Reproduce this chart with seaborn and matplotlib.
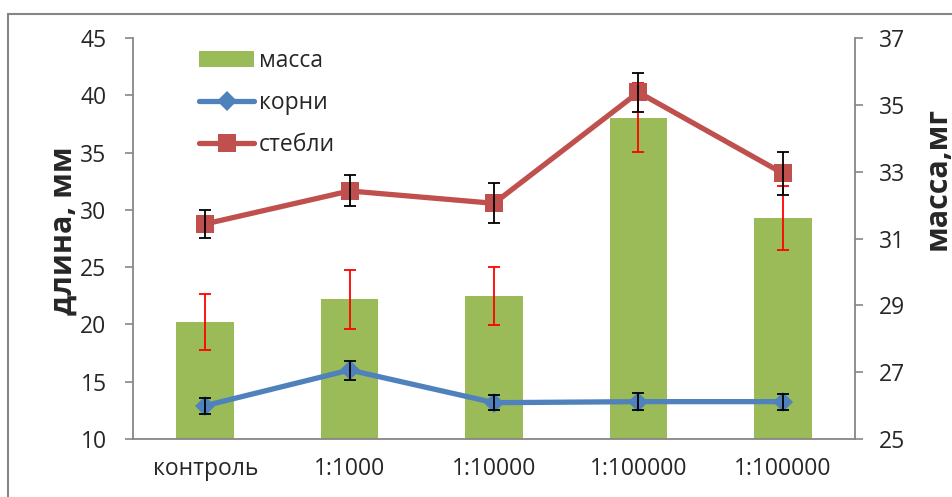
import numpy as np
import pandas as pd
import matplotlib
matplotlib.use('Agg')
import matplotlib.pyplot as plt
import seaborn as sns
from matplotlib.patches import Rectangle, Patch
from matplotlib.lines import Line2D

# data
groups = ['контроль', '1:1000', '1:10000', '1:100000', '1:100000']
massa = [28.5, 29.18, 29.28, 34.62, 31.62]          # right axis, мг
massa_err = [0.85, 0.88, 0.88, 1.03, 0.95]
korni = [12.91, 16.02, 13.17, 13.26, 13.26]         # left axis, мм
korni_err = [0.70, 0.83, 0.68, 0.73, 0.70]
stebli = [28.77, 31.65, 30.57, 40.26, 33.19]        # left axis, мм
stebli_err = [1.20, 1.35, 1.76, 1.70, 1.85]

green = '#9BBB59'
blue = '#4F81BD'
red = '#C0504D'
gray = '#868686'
fs = 16.5

sns.set_style('white')
plt.rcParams['font.family'] = ['Open Sans', 'DejaVu Sans']

df = pd.DataFrame({'pos': np.arange(len(groups)), 'massa': massa,
                   'korni': korni, 'stebli': stebli})

fig = plt.figure(figsize=(9.52, 4.97), dpi=100)
ax = fig.add_axes([133 / 952, 1 - 439 / 497, 722 / 952, 401 / 497])
ax2 = ax.twinx()

# bars on the right (mass) axis
sns.barplot(data=df, x='pos', y='massa', ax=ax2, color=green, saturation=1,
            width=0.4, linewidth=0)
ax2.errorbar(df['pos'], df['massa'], yerr=massa_err, fmt='none', ecolor='#FF0000',
             elinewidth=1.3, capsize=4.5, capthick=1.3)

# lines on the left (length) axis
sns.lineplot(data=df, x='pos', y='korni', ax=ax, color=blue, linewidth=3.8,
             marker='D', markersize=10, markeredgewidth=0)
ax.errorbar(df['pos'], df['korni'], yerr=korni_err, fmt='none', ecolor='black',
            elinewidth=1.3, capsize=4.2, capthick=1.3)
sns.lineplot(data=df, x='pos', y='stebli', ax=ax, color=red, linewidth=3.8,
             marker='s', markersize=13.5, markeredgewidth=0)
ax.errorbar(df['pos'], df['stebli'], yerr=stebli_err, fmt='none', ecolor='black',
            elinewidth=1.3, capsize=4.2, capthick=1.3)

ax.set_zorder(ax2.get_zorder() + 1)
ax.patch.set_visible(False)

# axes limits and ticks
ax.set_xlim(-0.5, len(groups) - 0.5)
ax.set_ylim(10, 45)
ax.set_yticks(range(10, 46, 5))
ax2.set_ylim(25, 37)
ax2.set_yticks(range(25, 38, 2))

ax.set_xticks(np.arange(-0.5, len(groups), 1.0))
ax.set_xticklabels([])
ax.set_xticks(np.arange(len(groups)), minor=True)
ax.set_xticklabels(groups, minor=True)
ax.tick_params(axis='x', which='major', direction='out', length=6, color=gray, width=1.2)
ax.tick_params(axis='x', which='minor', length=0, pad=13, labelsize=fs)
ax.tick_params(axis='y', direction='out', length=6, color=gray, width=1.2,
               labelsize=fs, pad=13, left=True)
ax2.tick_params(axis='y', direction='out', length=6, color=gray, width=1.2,
                labelsize=fs, pad=11, right=True)
ax2.set_xlabel('')
ax.set_xlabel('')

for a in (ax, ax2):
    for side in ('left', 'right', 'bottom'):
        a.spines[side].set_color(gray)
        a.spines[side].set_linewidth(1.3)
    a.spines['top'].set_visible(False)
ax.spines['right'].set_visible(False)
ax2.spines['left'].set_visible(False)
ax2.spines['bottom'].set_visible(False)

ax.set_ylabel('длина, мм', fontsize=22, fontweight='bold')
ax.yaxis.set_label_coords(-0.075, 0.52)
ax2.set_ylabel('масса,мг', fontsize=22, fontweight='bold')
ax2.yaxis.set_label_coords(1.094, 0.65)

handles = [Patch(facecolor=green, edgecolor='none'),
           Line2D([], [], color=blue, lw=3.8, marker='D', markersize=10, markeredgewidth=0),
           Line2D([], [], color=red, lw=3.8, marker='s', markersize=13.5, markeredgewidth=0)]
leg = ax.legend(handles, ['масса', 'корни', 'стебли'], loc='upper left',
                bbox_to_anchor=(0.063, 1.025), frameon=False, fontsize=fs,
                handlelength=2.4, handletextpad=0.2, labelspacing=0.8)

# outer chart frame (cropped Excel chart area)
fig.patches.append(Rectangle((8 / 952, -0.1), 1.2, 1.1 - 14 / 497,
                             transform=fig.transFigure, fill=False,
                             edgecolor=gray, linewidth=1.5))

fig.savefig('out.png', dpi=100)
